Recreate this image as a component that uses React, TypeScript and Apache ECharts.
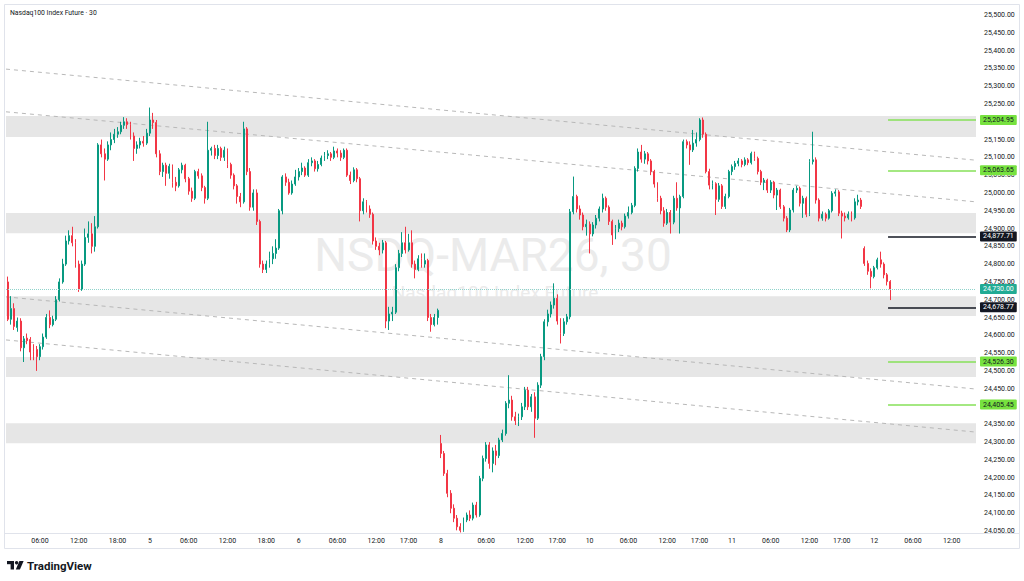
import React, { useEffect, useRef } from 'react';
import * as echarts from 'echarts';

// ---------- data ----------
const SLOT_COUNT = 300; // 30-minute slots on the time axis (incl. empty future space)

// [open, close, low, high]
const CANDLES_D4 = [
  [24750, 24645, 24640, 24765], [24645, 24675, 24630, 24710], [24675, 24625, 24615, 24690], [24622, 24640, 24610, 24650],
  [24640, 24565, 24555, 24648], [24565, 24590, 24525, 24598], [24592, 24585, 24575, 24605], [24588, 24553, 24530, 24595],
  [24555, 24545, 24530, 24575], [24560, 24540, 24500, 24570], [24540, 24568, 24530, 24575], [24568, 24595, 24560, 24605],
  [24595, 24650, 24590, 24660], [24650, 24630, 24620, 24670], [24630, 24645, 24625, 24655], [24645, 24700, 24640, 24710],
  [24700, 24750, 24695, 24760], [24750, 24800, 24745, 24815], [24800, 24865, 24795, 24880], [24865, 24880, 24855, 24895],
  [24880, 24860, 24850, 24905], [24860, 24800, 24790, 24870], [24800, 24730, 24722, 24810], [24730, 24800, 24725, 24810],
  [24800, 24875, 24795, 24900], [24875, 24885, 24860, 24920], [24885, 24850, 24830, 24915], [24850, 24905, 24835, 24935],
  [24905, 25135, 24900, 25140], [25135, 25110, 25100, 25150], [25110, 25095, 25035, 25125], [25095, 25135, 25090, 25145],
  [25135, 25150, 25120, 25170], [25150, 25165, 25140, 25180], [25165, 25172, 25155, 25185], [25172, 25190, 25165, 25200],
  [25190, 25200, 25180, 25213], [25200, 25192, 25180, 25210], [25192, 25160, 25150, 25200], [25160, 25125, 25090, 25170],
  [25125, 25135, 25110, 25145], [25135, 25145, 25125, 25155], [25145, 25140, 25130, 25160], [25140, 25168, 25135, 25180],
];
const CANDLES_D5 = [
  [25168, 25205, 25160, 25240], [25205, 25198, 25180, 25225], [25198, 25110, 25100, 25205], [25110, 25060, 25050, 25120],
  [25060, 25078, 25045, 25085], [25078, 25055, 25020, 25085], [25055, 25075, 25040, 25082], [25075, 25030, 25015, 25080],
  [25030, 25020, 25005, 25045], [25020, 25065, 25015, 25070], [25065, 25078, 25055, 25085], [25078, 25040, 25030, 25082],
  [25040, 25005, 24995, 25045], [25005, 24985, 24975, 25015], [24985, 25060, 24980, 25065], [25060, 25048, 25040, 25068],
  [25048, 25015, 25005, 25055], [25015, 24985, 24970, 25020], [24985, 25120, 24980, 25200], [25120, 25125, 25105, 25130],
  [25125, 25105, 25095, 25135], [25105, 25125, 25095, 25135], [25125, 25100, 25090, 25130], [25100, 25120, 25090, 25130],
  [25120, 25080, 25070, 25125], [25080, 25050, 25040, 25085], [25050, 25020, 25010, 25055], [25020, 24990, 24970, 25025],
  [24990, 24975, 24960, 25000], [24975, 25180, 24970, 25200], [25180, 25060, 25050, 25185], [25060, 24960, 24950, 25070],
  [24960, 25000, 24950, 25010], [25000, 24920, 24910, 25010], [24920, 24800, 24790, 24925], [24800, 24785, 24775, 24810],
  [24785, 24800, 24775, 24810], [24800, 24815, 24790, 24835], [24815, 24830, 24800, 24850], [24830, 24845, 24815, 24870],
  [24845, 24950, 24840, 24955], [24950, 25045, 24940, 25050], [25045, 25030, 25020, 25055], [25030, 25000, 24995, 25040],
  [25000, 25025, 24995, 25035], [25025, 25045, 25020, 25065],
];
const CANDLES_D6 = [
  [25045, 25060, 25035, 25070], [25060, 25070, 25050, 25085], [25070, 25050, 25045, 25075], [25050, 25085, 25045, 25095],
  [25085, 25090, 25075, 25100], [25090, 25068, 25060, 25095], [25068, 25080, 25060, 25090], [25080, 25098, 25075, 25105],
  [25098, 25105, 25090, 25115], [25105, 25110, 25095, 25120], [25110, 25100, 25090, 25115], [25100, 25118, 25095, 25130],
  [25118, 25112, 25100, 25125], [25112, 25100, 25090, 25120], [25100, 25120, 25095, 25125], [25120, 25050, 25045, 25125],
  [25050, 25035, 25025, 25060], [25035, 25065, 25030, 25072], [25065, 25040, 25030, 25070], [25040, 24950, 24920, 25045],
  [24950, 24975, 24940, 24985], [24975, 24955, 24945, 24980], [24955, 24940, 24930, 24965], [24940, 24865, 24855, 24945],
  [24865, 24850, 24840, 24875], [24850, 24840, 24825, 24860], [24840, 24860, 24830, 24868], [24860, 24640, 24620, 24865],
  [24640, 24660, 24615, 24680], [24660, 24665, 24640, 24680], [24665, 24790, 24660, 24800], [24790, 24830, 24780, 24840],
  [24830, 24860, 24820, 24890], [24860, 24840, 24830, 24905], [24840, 24860, 24835, 24885], [24860, 24800, 24790, 24895],
  [24800, 24785, 24760, 24810], [24785, 24815, 24780, 24825], [24815, 24800, 24790, 24830], [24800, 24810, 24790, 24830],
  [24810, 24650, 24640, 24815], [24650, 24630, 24610, 24660], [24630, 24650, 24625, 24660], [24650, 24670, 24630, 24675],
];
const CANDLES_D8 = [
  [24296, 24268, 24255, 24320], [24268, 24212, 24205, 24275], [24212, 24156, 24145, 24222], [24156, 24114, 24100, 24165],
  [24114, 24086, 24075, 24125], [24086, 24062, 24052, 24095], [24062, 24052, 24046, 24072], [24052, 24081, 24048, 24088],
  [24081, 24095, 24075, 24102], [24095, 24086, 24078, 24108], [24086, 24123, 24080, 24130], [24123, 24095, 24088, 24132],
  [24095, 24198, 24090, 24205], [24198, 24254, 24190, 24262], [24254, 24292, 24245, 24300], [24292, 24240, 24225, 24300],
  [24240, 24275, 24215, 24285], [24275, 24262, 24235, 24292], [24262, 24306, 24255, 24312], [24306, 24324, 24300, 24335],
  [24324, 24409, 24318, 24415], [24409, 24418, 24395, 24488], [24418, 24371, 24360, 24430], [24371, 24360, 24348, 24385],
  [24358, 24371, 24345, 24380], [24371, 24399, 24362, 24410], [24399, 24446, 24390, 24455], [24446, 24399, 24390, 24455],
  [24399, 24427, 24385, 24435], [24427, 24367, 24312, 24440], [24367, 24460, 24362, 24468], [24460, 24540, 24452, 24548],
  [24540, 24638, 24530, 24645], [24638, 24660, 24625, 24672], [24660, 24685, 24650, 24695], [24685, 24704, 24675, 24746],
  [24704, 24640, 24630, 24715], [24640, 24605, 24577, 24648], [24605, 24638, 24598, 24648], [24638, 24652, 24630, 24660],
  [24652, 24947, 24645, 24955], [24947, 24990, 24940, 25046], [24990, 24955, 24945, 24995], [24955, 24938, 24925, 24965],
  [24938, 24905, 24895, 24945], [24905, 24912, 24880, 24925],
];
const CANDLES_D10 = [
  [24912, 24885, 24830, 24920], [24885, 24910, 24878, 24918], [24910, 24929, 24900, 24938], [24929, 24955, 24920, 24962],
  [24955, 24985, 24945, 24998], [24985, 24960, 24950, 24990], [24960, 24920, 24910, 24965], [24920, 24882, 24854, 24925],
  [24882, 24900, 24870, 24910], [24900, 24915, 24890, 24925], [24915, 24905, 24895, 24922], [24905, 24935, 24900, 24942],
  [24935, 24945, 24928, 24962], [24945, 24965, 24940, 24972], [24965, 25069, 24960, 25075], [25069, 25115, 25060, 25125],
  [25115, 25095, 25085, 25135], [25095, 25110, 25082, 25118], [25110, 25090, 25080, 25115], [25090, 25060, 25050, 25095],
  [25060, 25025, 25015, 25065], [25025, 24985, 24975, 25030], [24985, 24950, 24940, 24992], [24950, 24915, 24905, 24960],
  [24915, 24945, 24910, 24955], [24945, 24918, 24886, 24952], [24918, 24985, 24912, 24992], [24985, 24958, 24950, 25030],
  [24958, 24990, 24886, 24995], [24990, 25144, 24985, 25150], [25144, 25135, 25125, 25150], [25135, 25121, 25079, 25145],
  [25121, 25140, 25115, 25177], [25140, 25150, 25130, 25170], [25150, 25205, 25145, 25210], [25205, 25165, 25155, 25212],
  [25165, 25060, 25055, 25170], [25060, 25022, 25010, 25068], [25022, 25026, 25010, 25035], [25026, 24982, 24938, 25030],
  [24982, 25020, 24975, 25028], [25020, 24962, 24955, 25025], [24962, 24990, 24955, 24998], [24990, 25060, 24985, 25065],
];
const CANDLES_D11 = [
  [25060, 25074, 25050, 25080], [25074, 25083, 25065, 25090], [25083, 25090, 25075, 25098], [25090, 25080, 25072, 25095],
  [25080, 25093, 25075, 25100], [25093, 25085, 25078, 25098], [25085, 25111, 25080, 25116], [25111, 25097, 25090, 25116],
  [25097, 25060, 25052, 25102], [25060, 25030, 25022, 25065], [25030, 25036, 25008, 25042], [25036, 25008, 25000, 25040],
  [25008, 25030, 25000, 25036], [25030, 24994, 24985, 25034], [24994, 25008, 24952, 25014], [25008, 24961, 24955, 25012],
  [24961, 24929, 24920, 24966], [24929, 24896, 24890, 24935], [24896, 24952, 24890, 24958], [24952, 25008, 24945, 25014],
  [25008, 25013, 25000, 25020], [25013, 24971, 24962, 25018], [24971, 24985, 24930, 24992], [24985, 24940, 24932, 24990],
  [24940, 25088, 24935, 25095], [25088, 25093, 25080, 25172], [25093, 24980, 24970, 25100], [24980, 24929, 24920, 24985],
  [24929, 24940, 24922, 24948], [24940, 24929, 24920, 24945], [24929, 24950, 24925, 24955], [24950, 24999, 24945, 25005],
  [24999, 25003, 24990, 25010], [25003, 24943, 24935, 25008], [24943, 24935, 24872, 24950], [24935, 24930, 24920, 24945],
  [24930, 24940, 24925, 24948], [24940, 24930, 24920, 24948], [24930, 24975, 24925, 24985], [24975, 24980, 24965, 24995],
  [24980, 24962, 24955, 24986], [24844, 24802, 24795, 24850], [24802, 24780, 24770, 24810], [24780, 24765, 24732, 24788],
];
const CANDLES_D12 = [
  [24765, 24790, 24760, 24795], [24790, 24812, 24785, 24818], [24812, 24800, 24790, 24835],
  [24800, 24770, 24760, 24805], [24770, 24751, 24740, 24775], [24751, 24730, 24699, 24755],
];

// time-axis tick labels (slot index -> label)
const TICK_INDEX = [10, 22, 34, 44, 56, 68, 80, 90, 102, 114, 124, 134, 148, 160, 170, 180, 192, 204, 214, 224, 236, 248, 258, 268, 280, 292];
const TICK_LABELS = ['06:00', '12:00', '18:00', '5', '06:00', '12:00', '18:00', '6', '06:00', '12:00', '17:00', '8', '06:00', '12:00', '17:00', '10', '06:00', '12:00', '17:00', '11', '06:00', '12:00', '17:00', '12', '06:00', '12:00'];

// price-axis tick labels
const PRICE_TICKS = [24050, 24100, 24150, 24200, 24250, 24300, 24350, 24400, 24450, 24500, 24550, 24600, 24650, 24700, 24750, 24800, 24850, 24900, 24950, 25000, 25050, 25100, 25150, 25200, 25250, 25300, 25350, 25400, 25450, 25500];

// grey supply/demand zones
const ZONE_TOPS = [25216, 24944, 24710, 24539, 24353];
const ZONE_BOTTOMS = [25157, 24887, 24654, 24483, 24297];

// dashed channel lines: [price at left edge, price at right edge]
const CHANNEL_LINES = [
  [25348, 25092],
  [25228, 24975],
  [24708, 24449],
  [24587, 24328],
];

// horizontal levels
const GREEN_LEVELS = [25204.95, 25063.65, 24526.3, 24405.45];
const BLACK_LEVELS = [24877.71, 24678.77];
const LAST_PRICE = 24730.0;

// ---------- styling / layout constants ----------
const UP = '#089981';
const DOWN = '#f23645';
const FONT = 'Roboto, "Liberation Sans", Arial, sans-serif';
const Y_MIN = 24044.5;
const Y_MAX = 25528.1;
const X_LEFT = -0.5;
const X_RIGHT = SLOT_COUNT - 0.5;
const LEVEL_START = 272.3;

const fmt = (v: number) => v.toLocaleString('en-US', { minimumFractionDigits: 2, maximumFractionDigits: 2 });

function buildOption() {
  const candles = [
    ...CANDLES_D4, ...CANDLES_D5, ...CANDLES_D6, ...CANDLES_D8,
    ...CANDLES_D10, ...CANDLES_D11, ...CANDLES_D12,
  ];
  const categories = Array.from({ length: SLOT_COUNT }, (_, i) => String(i));
  const tickMap = new Map<number, string>();
  TICK_INDEX.forEach((idx, k) => tickMap.set(idx, TICK_LABELS[k]));

  const levelLine = (value: number, lineColor: string, bg: string, fg: string, width: number, start: number, type: string) => [
    { coord: [start, value], lineStyle: { color: lineColor, width, type } , label: {
      show: true, position: 'end', distance: 4, formatter: fmt(value), backgroundColor: bg, color: fg,
      fontSize: 7, lineHeight: 8, fontFamily: FONT, padding: [1, 3, 1, 3], borderRadius: 1,
    } },
    { coord: [X_RIGHT, value] },
  ];

  const series: any[] = [
    {
      type: 'line', name: 'zones', xAxisIndex: 1, yAxisIndex: 0, data: [], z: 1, silent: true,
      markArea: {
        silent: true,
        itemStyle: { color: '#e6e6e6' },
        data: ZONE_TOPS.map((t, k) => [{ yAxis: t }, { yAxis: ZONE_BOTTOMS[k] }]),
      },
    },
    ...CHANNEL_LINES.map((pts, k) => ({
      type: 'line', name: 'channel' + k, xAxisIndex: 1, yAxisIndex: 0, z: 2, silent: true,
      data: [[X_LEFT, pts[0]], [X_RIGHT, pts[1]]],
      showSymbol: false, symbol: 'none',
      lineStyle: { color: '#b8b8b8', width: 1, type: [4, 4] },
    })),
    {
      type: 'candlestick', name: 'NQ', xAxisIndex: 0, yAxisIndex: 0, z: 3,
      data: candles,
      barWidth: '45%',
      itemStyle: { color: UP, color0: DOWN, borderColor: UP, borderColor0: DOWN, borderWidth: 1 },
    },
    {
      type: 'line', name: 'levels', xAxisIndex: 1, yAxisIndex: 0, data: [], z: 5, silent: true,
      markLine: {
        silent: true, symbol: ['none', 'none'], animation: false,
        data: [
          levelLine(LAST_PRICE, '#8fd3cb', '#22ab94', '#ffffff', 1, X_LEFT, 'dotted'),
          ...GREEN_LEVELS.map((v) => levelLine(v, '#86e058', '#77e23f', '#131722', 1.5, LEVEL_START, 'solid')),
          ...BLACK_LEVELS.map((v) => levelLine(v, '#131722', '#131722', '#ffffff', 1.5, LEVEL_START, 'solid')),
        ],
      },
    },
  ];

  return {
    animation: false,
    backgroundColor: '#ffffff',
    grid: { left: 6, top: 5, width: 970, height: 528, containLabel: false, outerBoundsMode: 'none' },
    xAxis: [
      {
        type: 'category', data: categories, boundaryGap: true,
        axisLine: { show: false }, axisTick: { show: false }, splitLine: { show: false },
        axisLabel: {
          interval: (index: number) => tickMap.has(index),
          formatter: (_v: string, index: number) => tickMap.get(index) ?? '',
          fontSize: 7, fontFamily: FONT, color: '#131722', margin: 4,
        },
      },
      { type: 'value', min: X_LEFT, max: X_RIGHT, show: false },
    ],
    yAxis: {
      type: 'value', position: 'right', min: Y_MIN, max: Y_MAX, scale: true,
      axisLine: { show: false }, axisTick: { show: false }, splitLine: { show: false },
      axisLabel: {
        customValues: PRICE_TICKS, showMinLabel: true, showMaxLabel: true,
        formatter: (v: number) => fmt(v), fontSize: 7, lineHeight: 8, fontFamily: FONT, color: '#131722', margin: 8, align: 'left',
      },
    },
    graphic: [
      { type: 'text', z: 0, silent: true, style: { text: 'NSDQ-MAR26, 30', x: 493, y: 255, textAlign: 'center', align: 'center', textVerticalAlign: 'middle', verticalAlign: 'middle', fontSize: 46, lineHeight: 36, fontFamily: FONT, fill: '#ebebeb' } },
      { type: 'text', z: 0, silent: true, style: { text: 'Nasdaq100 Index Future', x: 495, y: 292, textAlign: 'center', align: 'center', textVerticalAlign: 'middle', verticalAlign: 'middle', fontSize: 19, lineHeight: 15, fontFamily: FONT, fill: '#ebebeb' } },
      { type: 'text', z: 10, silent: true, style: { text: 'Nasdaq100 Index Future · 30', x: 10, y: 13, textVerticalAlign: 'middle', verticalAlign: 'middle', fontSize: 6.8, fontFamily: FONT, fill: '#131722' } },
      { type: 'rect', z: 10, silent: true, shape: { x: 4.5, y: 4.5, width: 1015, height: 544 }, style: { fill: 'none', stroke: '#e0e3eb', lineWidth: 1 } },
      { type: 'line', z: 10, silent: true, shape: { x1: 5, y1: 533.5, x2: 1019, y2: 533.5 }, style: { stroke: '#e0e3eb', lineWidth: 1 } },
      // TradingView logo
      { type: 'rect', z: 10, silent: true, shape: { x: 7, y: 561, width: 7, height: 3.2 }, style: { fill: '#131722' } },
      { type: 'rect', z: 10, silent: true, shape: { x: 10.6, y: 561, width: 3.4, height: 8.5 }, style: { fill: '#131722' } },
      { type: 'circle', z: 10, silent: true, shape: { cx: 16.6, cy: 562.7, r: 1.7 }, style: { fill: '#131722' } },
      { type: 'polygon', z: 10, silent: true, shape: { points: [[19.4, 561], [23.6, 561], [19.9, 569.5], [15.8, 569.5]] }, style: { fill: '#131722' } },
      { type: 'text', z: 10, silent: true, style: { text: 'TradingView', x: 27, y: 565.5, textVerticalAlign: 'middle', verticalAlign: 'middle', fontSize: 11.5, fontWeight: 'bold', fontFamily: FONT, fill: '#131722' } },
    ],
    series,
  };
}

export default function App() {
  const ref = useRef<HTMLDivElement>(null);
  useEffect(() => {
    if (!ref.current) return;
    const chart = echarts.init(ref.current, null, { renderer: 'svg' });
    chart.setOption(buildOption() as any);
    return () => chart.dispose();
  }, []);
  return (
    <div
      ref={ref}
      style={{ position: 'fixed', left: 0, top: 0, width: 1024, height: 581, background: '#ffffff' }}
    />
  );
}
